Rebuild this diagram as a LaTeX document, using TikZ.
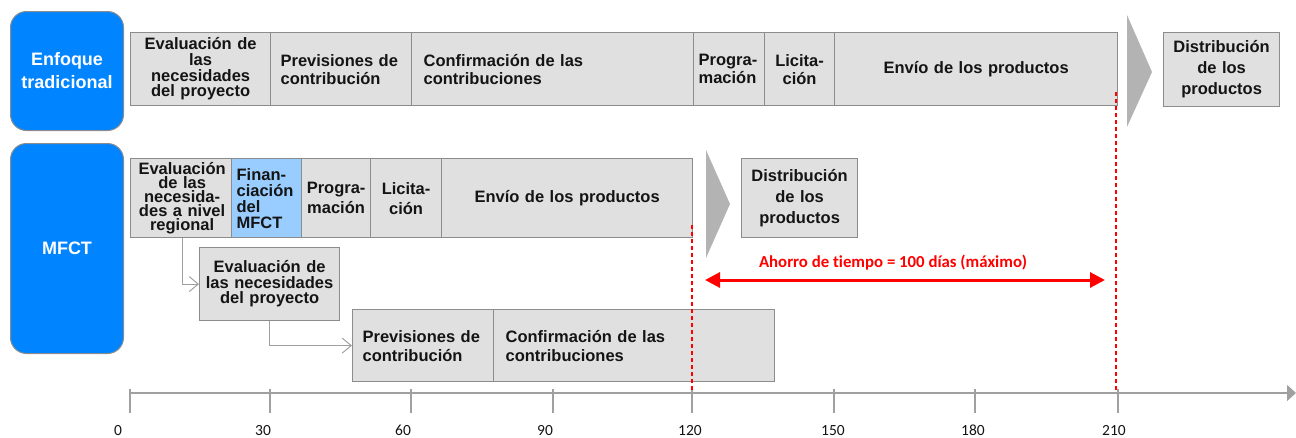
\documentclass[tikz,border=0pt]{standalone}
\usepackage{fontspec}
\setmainfont{Liberation Sans}
\newfontfamily\calfont[Ligatures=NoCommon]{Carlito}
\usetikzlibrary{arrows.meta}
\definecolor{boxfill}{RGB}{224,224,224}
\definecolor{boxline}{RGB}{140,140,140}
\definecolor{bluebox}{RGB}{0,132,255}
\definecolor{lightblue}{RGB}{153,204,255}
\definecolor{chev}{RGB}{179,179,179}
\definecolor{axisgray}{RGB}{160,160,160}
\definecolor{txt}{RGB}{20,20,20}
\begin{document}
\begin{tikzpicture}[x=1pt,y=-1pt,
  box/.style={draw=boxline, fill=boxfill, line width=1.2pt, inner xsep=3pt, inner ysep=0pt,
    anchor=north west, text=txt, align=center, font=\bfseries\fontsize{16.5}{18}\selectfont},
  lbox/.style={box, align=left},
  phase/.style={draw=boxline, fill=bluebox, line width=1pt, rounded corners=16pt, inner sep=0pt,
    anchor=north west, text=white, align=center, font=\bfseries\fontsize{18}{23}\selectfont},
  chevron/.style={fill=chev, draw=none},
  conn/.style={draw=axisgray, line width=1.2pt, -{Straight Barb[length=9pt,width=15pt,line width=1pt]}},
  reddash/.style={draw=red, line width=1.3pt, dash pattern=on 4pt off 3pt},
  saving/.style={draw=red, line width=3pt, {Triangle[length=15pt,width=15pt]}-{Triangle[length=15pt,width=15pt]}},
  axis/.style={draw=axisgray, line width=1.5pt},
  tick/.style={draw=axisgray, line width=1.5pt},
  ticklabel/.style={anchor=base, text=txt, font=\calfont\fontsize{15.5}{18}\selectfont, inner sep=0pt},
]
\useasboundingbox (0,0) rectangle (1296,437);

% phase labels
\node[phase, minimum width=113pt, minimum height=119pt] (trad) at (10,11) {Enfoque\\tradicional};
\node[phase, minimum width=113pt, minimum height=210pt] (mfct) at (10,143) {MFCT};

% traditional row
\node[box, minimum width=140pt, minimum height=73pt, text width=134pt, font=\bfseries\fontsize{16.5}{15.7}\selectfont] (t1) at (130,32) {Evaluación de\\las\\necesidades\\del proyecto};
\node[lbox, minimum width=141pt, minimum height=73pt, inner xsep=10pt, text width=121pt] (t2) at (270,32) {Previsiones de\\contribución};
\node[lbox, minimum width=282pt, minimum height=73pt, inner xsep=12pt, text width=258pt] (t3) at (411,32) {Confirmación de las\\contribuciones};
\node[lbox, minimum width=71pt, minimum height=73pt, inner xsep=5pt, text width=61pt] (t4) at (693,32) {Progra-\\mación};
\node[box, minimum width=70pt, minimum height=73pt, text width=64pt] (t5) at (764,32) {Licita-\\ción};
\node[box, minimum width=283pt, minimum height=73pt, text width=277pt] (t6) at (834,32) {Envío de los productos};
\fill[chevron] (1127,15) -- (1152,72) -- (1127,127) -- cycle;
\node[box, minimum width=114pt, minimum height=74pt, text width=110pt, font=\bfseries\fontsize{16.5}{21}\selectfont] (t7) at (1163,32) {Distribución\\de los\\productos};

% MFCT row
\node[box, minimum width=101pt, minimum height=79pt, text width=97pt, font=\bfseries\fontsize{16.5}{14}\selectfont] (m1) at (130,158) {Evaluación\\de las\\necesida-\\des a nivel\\regional};
\node[lbox, fill=lightblue, minimum width=70pt, minimum height=79pt, inner xsep=5pt, text width=60pt, font=\bfseries\fontsize{16.5}{16}\selectfont] (m2) at (231,158) {Finan-\\ciación\\del\\MFCT};
\node[box, minimum width=69pt, minimum height=79pt, text width=63pt, font=\bfseries\fontsize{16.5}{20}\selectfont] (m3) at (301,158) {Progra-\\mación};
\node[box, minimum width=71pt, minimum height=79pt, text width=65pt, font=\bfseries\fontsize{16.5}{20}\selectfont] (m4) at (370,158) {Licita-\\ción};
\node[box, minimum width=251pt, minimum height=79pt, text width=245pt] (m5) at (441,158) {Envío de los productos};
\fill[chevron] (706,150) -- (730,204) -- (706,258) -- cycle;
\node[box, minimum width=114pt, minimum height=79pt, text width=110pt, font=\bfseries\fontsize{16.5}{21}\selectfont] (m6) at (741,158) {Distribución\\de los\\productos};

\node[box, minimum width=140pt, minimum height=73pt, text width=134pt, font=\bfseries\fontsize{16.5}{15.5}\selectfont] (p1) at (199,247) {Evaluación de\\las necesidades\\del proyecto};
\node[lbox, minimum width=141pt, minimum height=72pt, inner xsep=10pt, text width=121pt, font=\bfseries\fontsize{16.5}{19}\selectfont] (p2) at (352,309) {Previsiones de\\contribución};
\node[lbox, minimum width=281pt, minimum height=72pt, inner xsep=12pt, text width=257pt, font=\bfseries\fontsize{16.5}{19}\selectfont] (p3) at (493,309) {Confirmación de las\\contribuciones};

% connectors
\draw[conn] (m1.south) |- (p1.west);
\draw[conn] (p1.south) |- (p2.west);

% axis
\coordinate (a0) at (130,393);
\coordinate (aend) at (1296,393);
\draw[axis, -{Triangle[length=9pt,width=16pt]}] (a0) -- (aend);
\foreach \xx/\lx/\lab in {130/118/0, 270/263/30, 411/403/60, 553/545/90, 692/690/120, 834/833/150, 975/973/180, 1118/1114/210}{
  \draw[tick] (\xx,389) -- (\xx,413);
  \node[ticklabel] (lab\lab) at (\lx,435) {\lab};
}

% red markers
\coordinate (r1top) at (1116,92);
\coordinate (r1bot) at (1116,391);
\coordinate (r2top) at (692,225);
\coordinate (r2bot) at (692,391);
\draw[reddash] (r1top) -- (r1bot);
\draw[reddash] (r2top) -- (r2bot);
\coordinate (sL) at (705,280);
\coordinate (sR) at (1105,280);
\draw[saving] (sL) -- (sR);
\node[text=red, font=\calfont\bfseries\fontsize{16.8}{18}\selectfont, anchor=base, inner sep=0pt] (savelab) at (893,267) {Ahorro de tiempo = 100 días (máximo)};
\end{tikzpicture}
\end{document}
